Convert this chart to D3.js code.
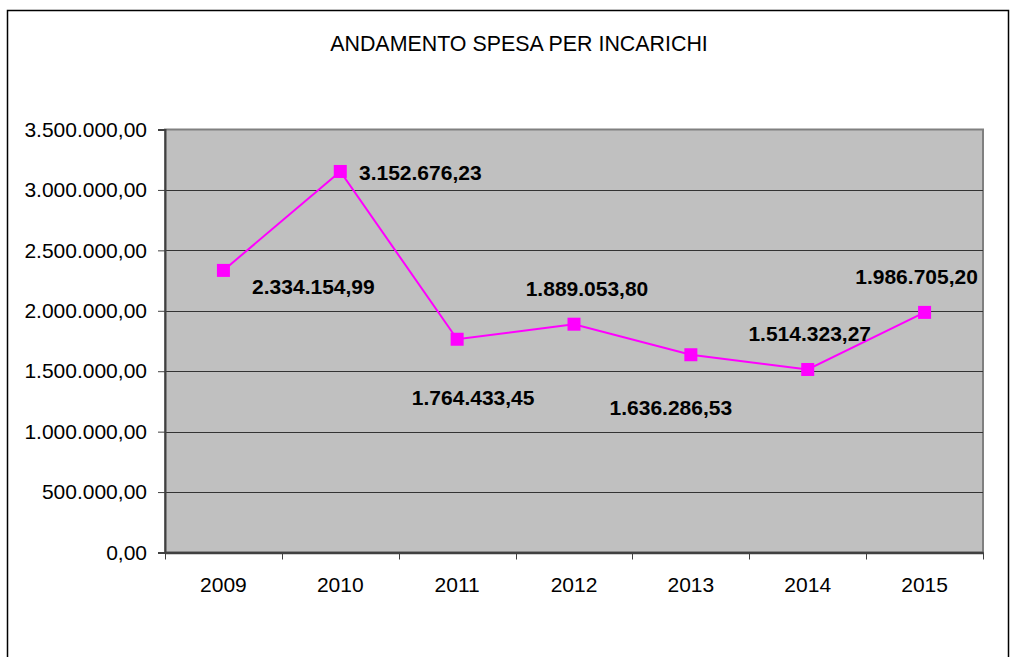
<!DOCTYPE html>
<html>
<head>
<meta charset="utf-8">
<script src="https://cdn.jsdelivr.net/npm/d3@7"></script>
<style>
  body { margin: 0; background: #fff; }
  text { font-family: "Liberation Sans", Arial, sans-serif; }
</style>
</head>
<body>
<svg id="chart"></svg>
<script>
const chartTitle = 'ANDAMENTO SPESA PER INCARICHI'
const years = ['2009', '2010', '2011', '2012', '2013', '2014', '2015']
const spesa = [2334154.99, 3152676.23, 1764433.45, 1889053.80, 1636286.53, 1514323.27, 1986705.20]
const yTicks = [0, 500000, 1000000, 1500000, 2000000, 2500000, 3000000, 3500000]

// where each data label sits relative to its marker (dx centre, dy baseline)
const labelOffsets = [[90, 24], [80, 9], [16, 66], [13, -28], [-20, 60], [2, -28], [-8, -28]]

const svgWidth = 1010
const svgHeight = 657
const plot = { left: 165, right: 983, top: 129.5, bottom: 552.5 }

// italian number format: 1.234.567,89
const it = d3.formatLocale({ decimal: ',', thousands: '.', grouping: [3], currency: ['€', ''] })
const fmt = it.format(',.2f')

const svg = d3.select('#chart')
    .attr('width', svgWidth)
    .attr('height', svgHeight)

// outer frame
svg.append('rect')
    .attr('x', 7.5)
    .attr('y', 10.5)
    .attr('width', 1001)
    .attr('height', 700)
    .attr('fill', 'none')
    .attr('stroke', '#000')
    .attr('stroke-width', 1.5)

svg.append('text')
    .attr('x', 519)
    .attr('y', 51)
    .attr('text-anchor', 'middle')
    .attr('font-size', '21.4px')
    .attr('fill', '#000')
    .text(chartTitle)

const x = d3.scaleBand()
    .domain(years)
    .range([plot.left, plot.right])

const y = d3.scaleLinear()
    .domain([0, 3500000])
    .range([plot.bottom, plot.top])

// plot background
svg.append('rect')
    .attr('x', plot.left)
    .attr('y', plot.top)
    .attr('width', plot.right - plot.left)
    .attr('height', plot.bottom - plot.top)
    .attr('fill', '#c0c0c0')
    .attr('stroke', '#808080')
    .attr('stroke-width', 2)

// gridlines
svg.append('g')
    .selectAll('line')
    .data(yTicks.slice(1, -1))
    .join('line')
    .attr('x1', plot.left)
    .attr('x2', plot.right)
    .attr('y1', d => Math.round(y(d)) + 0.5)
    .attr('y2', d => Math.round(y(d)) + 0.5)
    .attr('stroke', '#333')
    .attr('stroke-width', 1)

// y axis
const yAxis = svg.append('g')
    .attr('transform', `translate(${plot.left},0)`)
    .call(d3.axisLeft(y).tickValues(yTicks).tickFormat(fmt).tickSize(7).tickPadding(11))
yAxis.select('.domain').attr('stroke', '#404040').attr('stroke-width', 2)
yAxis.selectAll('.tick line').attr('stroke', '#404040')
yAxis.selectAll('text')
    .attr('font-size', '21px')
    .attr('fill', '#000')
    .attr('font-family', '"Liberation Sans", Arial, sans-serif')

// x axis, ticks between categories
const xAxis = svg.append('g')
    .attr('transform', `translate(0,${plot.bottom})`)
    .call(d3.axisBottom(x).tickSize(0).tickPadding(25))
xAxis.select('.domain').attr('stroke', '#404040').attr('stroke-width', 2.5)
xAxis.selectAll('text')
    .attr('font-size', '21px')
    .attr('fill', '#000')
    .attr('font-family', '"Liberation Sans", Arial, sans-serif')
xAxis.selectAll('.sep')
    .data(years.concat(['end']))
    .join('line')
    .attr('class', 'sep')
    .attr('x1', (d, i) => Math.round(plot.left + i * x.bandwidth()) + 0.5)
    .attr('x2', (d, i) => Math.round(plot.left + i * x.bandwidth()) + 0.5)
    .attr('y1', 0)
    .attr('y2', 7)
    .attr('stroke', '#404040')

const cx = d => x(d) + x.bandwidth() / 2

// line
const line = d3.line()
    .x((d, i) => cx(years[i]))
    .y(d => y(d))

svg.append('path')
    .datum(spesa)
    .attr('d', line)
    .attr('fill', 'none')
    .attr('stroke', '#ff00ff')
    .attr('stroke-width', 2)

// markers
const ms = 13
svg.append('g')
    .selectAll('rect')
    .data(spesa)
    .join('rect')
    .attr('x', (d, i) => cx(years[i]) - ms / 2)
    .attr('y', d => y(d) - ms / 2)
    .attr('width', ms)
    .attr('height', ms)
    .attr('fill', '#ff00ff')

// data labels
svg.append('g')
    .selectAll('text')
    .data(spesa)
    .join('text')
    .attr('x', (d, i) => cx(years[i]) + labelOffsets[i][0])
    .attr('y', (d, i) => y(d) + labelOffsets[i][1])
    .attr('text-anchor', 'middle')
    .attr('font-size', '21px')
    .attr('font-weight', 'bold')
    .attr('fill', '#000')
    .text(d => fmt(d))
</script>
</body>
</html>
